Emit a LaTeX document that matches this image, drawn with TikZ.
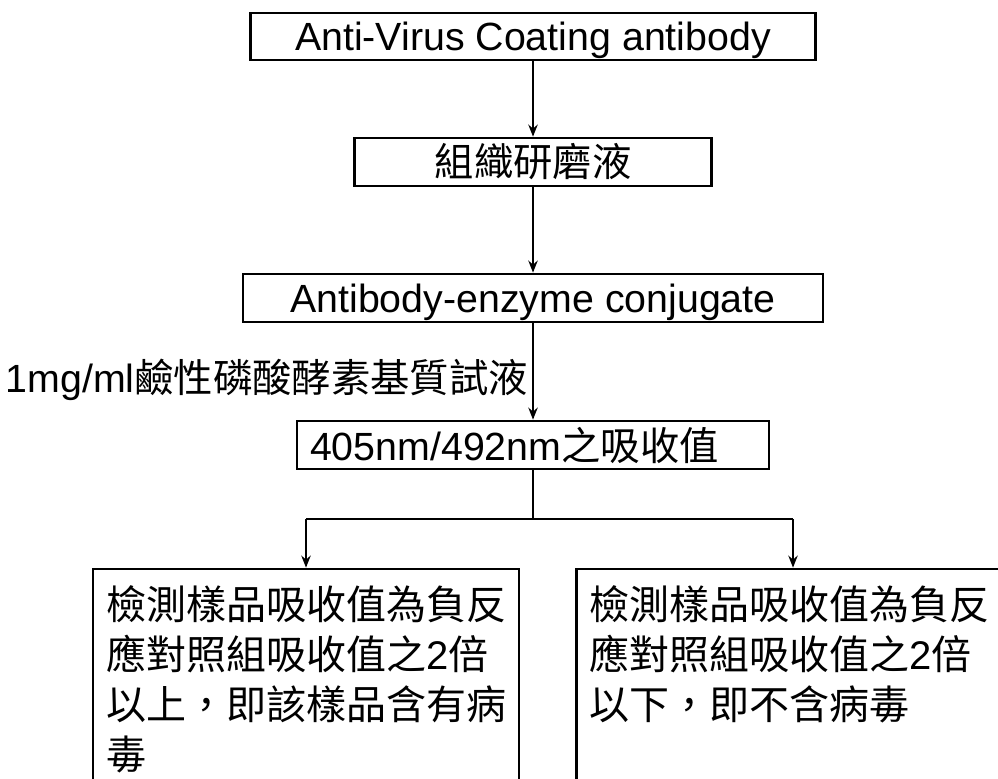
\documentclass[tikz,border=0pt]{standalone}
\usepackage{fontspec}
\setmainfont{Liberation Sans}
\newfontfamily\cjk{Noto Sans CJK TC}
\usetikzlibrary{arrows.meta}
\begin{document}
\begin{tikzpicture}[x=0.75pt,y=-0.75pt,
  box/.style={draw, line width=2pt, inner sep=0pt, font=\fontsize{29.5}{35}\selectfont},
  conn/.style={line width=1.6pt, -{Stealth[length=9pt,width=7pt]}},
  plain/.style={line width=1.6pt},
  body/.style={anchor=north west, align=left, inner sep=0pt, font=\fontsize{30}{37.5}\selectfont}]
\useasboundingbox (0,0) rectangle (998,778);
\clip (0,0) rectangle (998,778);
\node[box, text depth=0pt, minimum width=423.75pt, minimum height=35.25pt] (b1) at (533,36.5) {Anti-Virus Coating antibody};
\node[box, minimum width=267.75pt, minimum height=36pt] (b2) at (533,162) {\cjk 組織研磨液};
\node[box, text depth=0pt, minimum width=435pt, minimum height=36pt] (b3) at (533,298) {Antibody-enzyme conjugate};
\node[box, minimum width=354pt, minimum height=36pt, text width=334.5pt, align=left] (b4) at (533,445) {405nm/492nm{\cjk 之吸收值}};
\draw[conn] (b1.south) -- (b2.north);
\draw[conn] (b2.south) -- (b3.north);
\draw[conn] (b3.south) -- (b4.north)
  node[pos=0.586, left=3pt, inner sep=0pt, font=\fontsize{29.5}{35}\selectfont] (lab) {1mg/ml{\cjk 鹼性磷酸酵素基質試液}};
\node[box, minimum width=319.5pt, minimum height=173.25pt] (b5) at (306,684.5) {};
\node[box, minimum width=324.75pt, minimum height=173.25pt] (b6) at (793,684.5) {};
\coordinate (f) at (533,519);
\coordinate (fl) at (306,519);
\coordinate (fr) at (793,519);
\draw[plain] (b4.south) -- (f);
\draw[plain] (fl) -- (fr);
\draw[conn] (fl) -- (b5.north);
\draw[conn] (fr) -- (b6.north);
\node[body] (t5) at (106,585) {{\cjk 檢測樣品吸收值為負反}\\{\cjk 應對照組吸收值之}2{\cjk 倍}\\{\cjk 以上，即該樣品含有病}\\{\cjk 毒}};
\node[body] (t6) at (589,585) {{\cjk 檢測樣品吸收值為負反}\\{\cjk 應對照組吸收值之}2{\cjk 倍}\\{\cjk 以下，即不含病毒}};
\end{tikzpicture}
\end{document}
